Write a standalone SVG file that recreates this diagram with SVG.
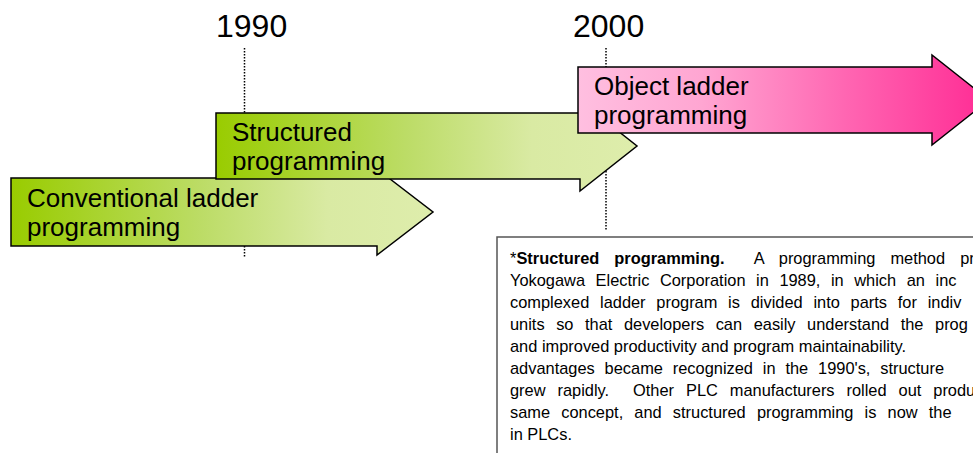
<svg xmlns="http://www.w3.org/2000/svg" width="973" height="453" viewBox="0 0 973 453">
  <defs>
    <linearGradient id="gradGreen" x1="0" y1="0" x2="1" y2="0">
      <stop offset="0" stop-color="#99cc00"/>
      <stop offset="0.45" stop-color="#bcdc66"/>
      <stop offset="0.75" stop-color="#d9eaa3"/>
      <stop offset="1" stop-color="#deedac"/>
    </linearGradient>
    <linearGradient id="gradPink" x1="0" y1="0" x2="1" y2="0">
      <stop offset="0" stop-color="#ffbfe0"/>
      <stop offset="0.3" stop-color="#ffa6d2"/>
      <stop offset="0.65" stop-color="#ff66b2"/>
      <stop offset="1" stop-color="#ff2b94"/>
    </linearGradient>
  </defs>
  <style>
    .year { font-family: "Liberation Sans", Arial, sans-serif; font-size: 32px; fill: #000; }
    .label { font-family: "Liberation Sans", Arial, sans-serif; font-size: 26px; fill: #000; }
    .note { font-family: "Liberation Sans", Arial, sans-serif; font-size: 16.4px; fill: #000; white-space: pre; }
    .note .b { font-weight: bold; }
    .arrow { stroke: #000; stroke-width: 1.5; stroke-linejoin: miter; }
    .guide { stroke: #000; stroke-width: 1.5; stroke-dasharray: 1.5 1.5; fill: none; }
  </style>

  <!-- year markers -->
  <g id="year-1990">
    <text class="year" x="216" y="37">1990</text>
  </g>
  <g id="year-2000">
    <text class="year" x="573" y="37">2000</text>
  </g>

  <!-- dotted guide lines (drawn beneath the arrows) -->
  <g id="connectors">
    <line class="guide" x1="244.5" y1="48" x2="244.5" y2="258"/>
    <line class="guide" x1="606" y1="48" x2="606" y2="230"/>
  </g>

  <!-- era arrows -->
  <g id="conventional">
    <polygon class="arrow" fill="url(#gradGreen)" points="11,178 377,178 377,169 433,212 377,255 377,246 11,246"/>
    <text class="label" x="27" y="207">Conventional ladder</text>
    <text class="label" x="27" y="236">programming</text>
  </g>
  <g id="structured">
    <polygon class="arrow" fill="url(#gradGreen)" points="216,113 580,113 580,101 637,146 580,191 580,179 216,179"/>
    <text class="label" x="232" y="141">Structured</text>
    <text class="label" x="232" y="170">programming</text>
  </g>
  <g id="object-ladder">
    <polygon class="arrow" fill="url(#gradPink)" points="578,67 932,67 932,55 989,100 932,145 932,133 578,133"/>
    <text class="label" x="594" y="95">Object ladder</text>
    <text class="label" x="594" y="124">programming</text>
  </g>

  <!-- footnote box: justified paragraph, spaces widened per line -->
  <g id="note">
    <rect x="497" y="237" width="500" height="240" fill="#fff" stroke="#555" stroke-width="1.5"/>
    <text class="note" x="510" y="264" word-spacing="10.5">*<tspan class="b">Structured programming.</tspan>  A programming method pr</text>
    <text class="note" x="510" y="286" word-spacing="6">Yokogawa Electric Corporation in 1989, in which an inc</text>
    <text class="note" x="510" y="308" word-spacing="6.2">complexed ladder program is divided into parts for indiv</text>
    <text class="note" x="510" y="330" word-spacing="7">units so that developers can easily understand the prog</text>
    <text class="note" x="510" y="352">and improved productivity and program maintainability.</text>
    <text class="note" x="510" y="374" word-spacing="5.3">advantages became recognized in the 1990's, structure</text>
    <text class="note" x="510" y="396" word-spacing="7.4">grew rapidly.  Other PLC manufacturers rolled out produ</text>
    <text class="note" x="510" y="418" word-spacing="6.6">same concept, and structured programming is now the</text>
    <text class="note" x="510" y="440">in PLCs.</text>
  </g>
</svg>
